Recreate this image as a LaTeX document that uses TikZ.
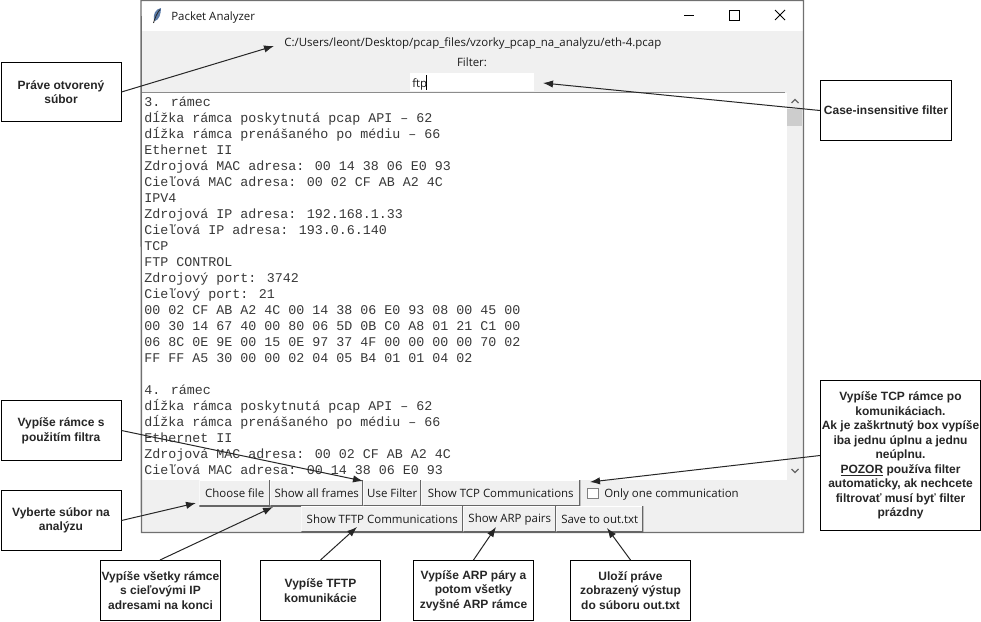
\documentclass[tikz,border=0pt]{standalone}
\usepackage{fontspec}
\setmainfont{Liberation Sans}
\newfontfamily\uifont{Open Sans}
\newfontfamily\codefont{Liberation Mono}
\usetikzlibrary{arrows.meta}
\definecolor{winbg}{HTML}{F0F0F0}
\definecolor{winedge}{HTML}{707070}
\definecolor{thumb}{HTML}{CDCDCD}
\definecolor{uitext}{HTML}{1A1A1A}
\definecolor{feather}{HTML}{5B7BA8}
\tikzset{
  callout/.style={draw=black,line width=.75pt,fill=white,inner sep=0pt,align=center,anchor=north west,
    font=\fontsize{9}{11}\selectfont\bfseries,text=black!85},
  btn/.style={anchor=north west,inner sep=0pt,minimum height=19.5pt,fill=winbg,text=uitext,
    font=\uifont\fontsize{8.6}{10}\selectfont,
    path picture={
      \draw[white,line width=1.5pt] (path picture bounding box.south west) -- (path picture bounding box.north west) -- (path picture bounding box.north east);
      \draw[black!60,line width=1.5pt] (path picture bounding box.south west) -- (path picture bounding box.south east) -- (path picture bounding box.north east);
    }},
  uilabel/.style={inner sep=0pt,text=uitext,font=\uifont\fontsize{8.6}{10}\selectfont},
  codeline/.style={anchor=base west,inner sep=0pt,text=black!78,font=\codefont\fontsize{10}{12}\selectfont},
  pointer/.style={draw=black!85,line width=.75pt,-{Latex[length=7.5pt,width=5.5pt]}},
}
\begin{document}
\begin{tikzpicture}[x=.75pt,y=-.75pt]
\useasboundingbox (0,0) rectangle (981,621);
% window
\fill[white] (141,0) rectangle (804,31);
\fill[winbg] (141,31) rectangle (804,533);
\fill[white] (142,93) rectangle (787,480);
\draw[black!45,line width=.75pt] (142,92.5) -- (785,92.5);
\fill[winbg] (787,94) rectangle (802,480);
\fill[thumb] (787,109) rectangle (802,126);
\draw[black!60,line width=.9pt] (791.5,103) -- (795,99.5) -- (798.5,103);
\draw[black!60,line width=.9pt] (791.5,469) -- (795,472.5) -- (798.5,469);
\draw[winedge,line width=1.1pt] (141,0.5) -- (803.5,0.5) -- (803.5,532.5) -- (141.5,532.5) -- cycle;
% title bar
\fill[feather] (161,8) .. controls (155,9) and (153,15) .. (154,20) -- (155,21) .. controls (159,20) and (161,14) .. (161,8) -- cycle;
\draw[black!85,line width=.6pt] (160,9.5) .. controls (157,13) and (155,18) .. (153.5,23);
\node[uilabel,anchor=base west] (title) at (171,20) {Packet Analyzer};
\draw[black,line width=.75pt] (684,15.5) -- (694,15.5);
\draw[black,line width=.75pt] (729.5,10.5) rectangle (739.5,20.5);
\draw[black,line width=.75pt] (775,10) -- (785,20) (785,10) -- (775,20);
\node[uilabel,anchor=base west] (path) at (284,46) {C:/Users/leont/Desktop/pcap\_files/vzorky\_pcap\_na\_analyzu/eth-4.pcap};
\node[uilabel,anchor=base] (filterlabel) at (472,66) {Filter:};
\node[anchor=north west,fill=white,inner sep=0pt,minimum width=93pt,minimum height=13.5pt] (entry) at (410,73) {};
\node[uilabel,anchor=base west] (entrytext) at (412,87) {ftp};
\draw[black,line width=.9pt] (426.5,75) -- (426.5,90);
% text
\node[codeline] (l1) at (144,106) {3. rámec};
\node[codeline] (l2) at (144,122) {dĺžka rámca poskytnutá pcap API – 62};
\node[codeline] (l3) at (144,138) {dĺžka rámca prenášaného po médiu – 66};
\node[codeline] (l4) at (144,154) {Ethernet II};
\node[codeline] (l5) at (144,170) {Zdrojová MAC adresa: 00 14 38 06 E0 93};
\node[codeline] (l6) at (144,186) {Cieľová MAC adresa: 00 02 CF AB A2 4C};
\node[codeline] (l7) at (144,202) {IPV4};
\node[codeline] (l8) at (144,218) {Zdrojová IP adresa: 192.168.1.33};
\node[codeline] (l9) at (144,234) {Cieľová IP adresa: 193.0.6.140};
\node[codeline] (l10) at (144,250) {TCP};
\node[codeline] (l11) at (144,266) {FTP CONTROL};
\node[codeline] (l12) at (144,282) {Zdrojový port: 3742};
\node[codeline] (l13) at (144,298) {Cieľový port: 21};
\node[codeline] (l14) at (144,314) {00 02 CF AB A2 4C 00 14 38 06 E0 93 08 00 45 00};
\node[codeline] (l15) at (144,330) {00 30 14 67 40 00 80 06 5D 0B C0 A8 01 21 C1 00};
\node[codeline] (l16) at (144,346) {06 8C 0E 9E 00 15 0E 97 37 4F 00 00 00 00 70 02};
\node[codeline] (l17) at (144,362) {FF FF A5 30 00 00 02 04 05 B4 01 01 04 02};
\node[codeline] (l18) at (144,394) {4. rámec};
\node[codeline] (l19) at (144,410) {dĺžka rámca poskytnutá pcap API – 62};
\node[codeline] (l20) at (144,426) {dĺžka rámca prenášaného po médiu – 66};
\node[codeline] (l21) at (144,442) {Ethernet II};
\node[codeline] (l22) at (144,458) {Zdrojová MAC adresa: 00 02 CF AB A2 4C};
\node[codeline] (l23) at (144,474) {Cieľová MAC adresa: 00 14 38 06 E0 93};
% buttons
\node[btn,minimum width=53.25pt] (choose) at (199,480) {Choose file};
\node[btn,minimum width=69.75pt] (allframes) at (270,480) {Show all frames};
\node[btn,minimum width=43.5pt] (usefilter) at (363,480) {Use Filter};
\node[btn,minimum width=119.25pt] (tcpbtn) at (421,480) {Show TCP Communications};
\node[btn,minimum width=121.5pt] (tftpbtn) at (301,506) {Show TFTP Communications};
\node[btn,minimum width=69.75pt] (arpbtn) at (463,506) {Show ARP pairs};
\node[btn,minimum width=65.25pt] (savebtn) at (556,506) {Save to out.txt};
\node[anchor=north west,draw=black!50,fill=white,line width=.6pt,inner sep=0pt,minimum size=8pt] (check) at (587,487.5) {};
\node[uilabel,anchor=base west] (onlyone) at (604,497) {Only one communication};
% callouts
\node[callout,minimum width=90pt,minimum height=44.25pt] (c1) at (0.5,62) {Práve otvorený\\súbor};
\node[callout,minimum width=98.25pt,minimum height=45pt] (c2) at (820,80) {Case-insensitive filter};
\node[callout,minimum width=90pt,minimum height=45pt] (c3) at (0.5,400) {Vypíše rámce s\\použitím filtra};
\node[callout,minimum width=90pt,minimum height=45pt] (c4) at (0.5,490) {Vyberte súbor na\\analýzu};
\node[callout,minimum width=90pt,minimum height=45pt] (c5) at (100,560) {Vypíše všetky rámce\\s cieľovými IP\\adresami na konci};
\node[callout,minimum width=90pt,minimum height=45pt] (c6) at (260,560) {Vypíše TFTP\\komunikácie};
\node[callout,minimum width=90pt,minimum height=45pt] (c7) at (413,560) {Vypíše ARP páry a\\potom všetky\\zvyšné ARP rámce};
\node[callout,minimum width=90pt,minimum height=45pt] (c8) at (570,560) {Uloží práve\\zobrazený výstup\\do súboru out.txt};
\node[callout,minimum width=120pt,minimum height=112.5pt,font=\fontsize{9}{10.9}\selectfont\bfseries] (c9) at (820,380) {Vypíše TCP rámce po\\komunikáciach.\\Ak je zaškrtnutý box vypíše\\iba jednu úplnu a jednu\\neúplnu.\\\underline{POZOR} používa filter\\automaticky, ak nechcete\\filtrovať musí byť filter\\prázdny};
% connector ends
\coordinate (t1) at (274,46);
\coordinate (t2) at (543,83);
\coordinate (t3) at (363,481);
\coordinate (t4) at (196,503);
\coordinate (t5) at (273,507);
\coordinate (t6) at (357,527);
\coordinate (t7) at (496,527);
\coordinate (t8) at (607,528);
\coordinate (t9) at (590,482);
\coordinate (s5) at (160,560);
\draw[pointer] (c1.east) -- (t1);
\draw[pointer] (c2.west) -- (t2);
\draw[pointer] (c3.east) -- (t3);
\draw[pointer] (c4.east) -- (t4);
\draw[pointer] (s5) -- (t5);
\draw[pointer] (c6.north) -- (t6);
\draw[pointer] (c7.north) -- (t7);
\draw[pointer] (c8.north) -- (t8);
\draw[pointer] (c9.west) -- (t9);
\end{tikzpicture}
\end{document}
